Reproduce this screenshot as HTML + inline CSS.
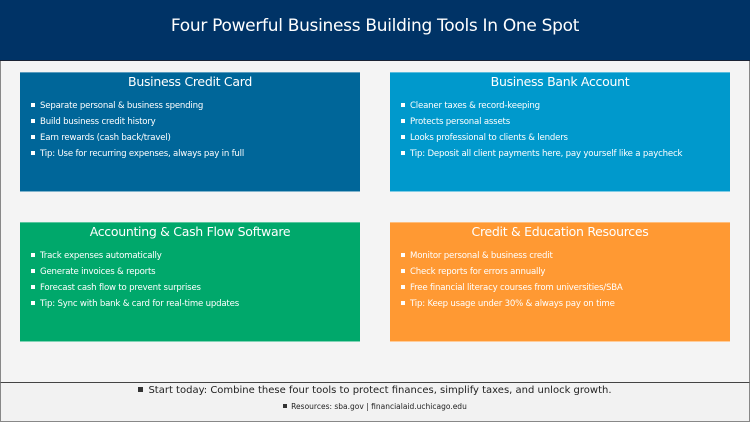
<!DOCTYPE html>
<html><head><style>
*{margin:0;padding:0;box-sizing:border-box}
body{width:750px;height:422px;overflow:hidden;background:#f4f4f4;font-family:"DejaVu Sans","Liberation Sans",sans-serif;position:relative}
.hdr{position:absolute;left:0;top:0;width:750px;height:61px;background:#003366;border-bottom:1px solid #1a2233;color:#fff;text-align:center;font-size:17px;line-height:52px;letter-spacing:-0.3px}
.side{position:absolute;top:61px;width:1px;height:321px;background:#888}
.card{position:absolute;width:340px;height:120px;color:#fff;border-top:1px solid rgba(255,255,255,.35);border-bottom:1px solid rgba(255,255,255,.5)}
.card h3{font-weight:normal;font-size:12.5px;text-align:center;margin-top:1px;line-height:16px;letter-spacing:-0.3px}
.card ul{list-style:none;margin:8px 0 0 11px}
.card li{font-size:8.6px;line-height:16px;letter-spacing:-0.2px}
.card li:before{content:"";display:inline-block;width:4px;height:4px;background:#fff;margin-right:5px;vertical-align:1px}
.ftr{position:absolute;left:0;top:382px;width:750px;height:40px;background:#f2f2f2;border-top:1px solid #444;border-left:1px solid #888;border-right:1px solid #888;border-bottom:1px solid #888;text-align:center;color:#222}
.f1{font-size:10px;margin-top:1px;line-height:14px}
.f2{font-size:7.5px;margin-top:4px;line-height:10px}
.sq{display:inline-block;width:5px;height:5px;background:#333;margin-right:5px;vertical-align:1px}
.sq2{display:inline-block;width:4px;height:4px;background:#333;margin-right:4px;vertical-align:1px}
</style></head><body>
<div class="hdr">Four Powerful Business Building Tools In One Spot</div>
<div class="side" style="left:0"></div><div class="side" style="left:749px"></div>
<div class="card" style="left:20px;top:72px;background:#006699">
<h3>Business Credit Card</h3>
<ul><li>Separate personal &amp; business spending</li><li>Build business credit history</li><li>Earn rewards (cash back/travel)</li><li>Tip: Use for recurring expenses, always pay in full</li></ul></div>
<div class="card" style="left:390px;top:72px;background:#0099cc">
<h3>Business Bank Account</h3>
<ul><li>Cleaner taxes &amp; record-keeping</li><li>Protects personal assets</li><li>Looks professional to clients &amp; lenders</li><li>Tip: Deposit all client payments here, pay yourself like a paycheck</li></ul></div>
<div class="card" style="left:20px;top:222px;background:#00a86b">
<h3>Accounting &amp; Cash Flow Software</h3>
<ul><li>Track expenses automatically</li><li>Generate invoices &amp; reports</li><li>Forecast cash flow to prevent surprises</li><li>Tip: Sync with bank &amp; card for real-time updates</li></ul></div>
<div class="card" style="left:390px;top:222px;background:#ff9933">
<h3>Credit &amp; Education Resources</h3>
<ul><li>Monitor personal &amp; business credit</li><li>Check reports for errors annually</li><li>Free financial literacy courses from universities/SBA</li><li>Tip: Keep usage under 30% &amp; always pay on time</li></ul></div>
<div class="ftr"><div class="f1"><span class="sq"></span>Start today: Combine these four tools to protect finances, simplify taxes, and unlock growth.</div>
<div class="f2"><span class="sq2"></span>Resources: sba.gov | financialaid.uchicago.edu</div></div>
</body></html>
